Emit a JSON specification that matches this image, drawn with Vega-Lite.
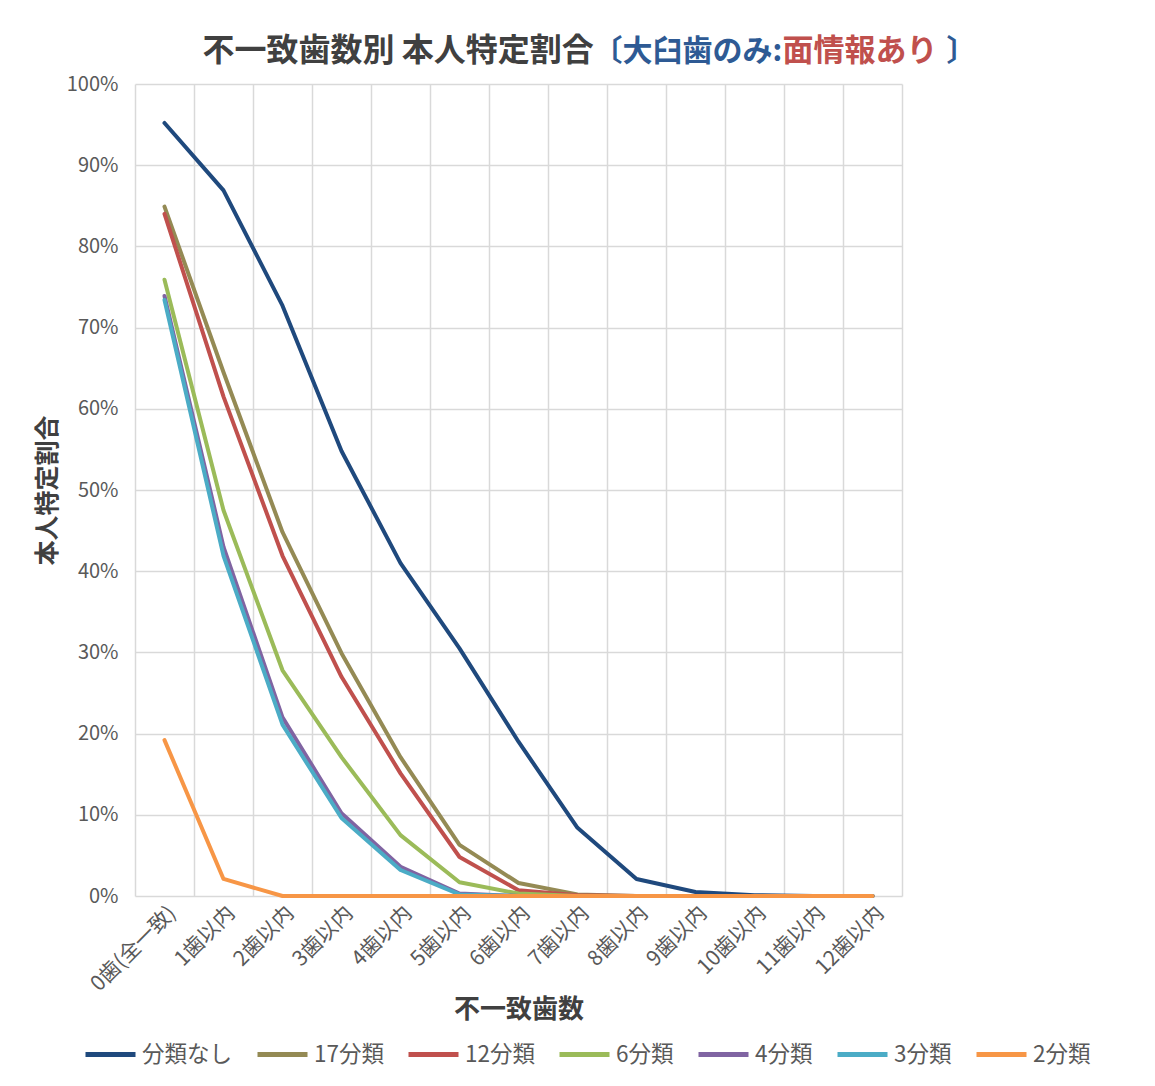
{
  "$schema": "https://vega.github.io/schema/vega-lite/v6.json",
  "autosize": {"type": "none"},
  "width": 767,
  "height": 812,
  "padding": {"left": 135, "top": 84, "right": 253, "bottom": 190},
  "background": "white",
  "config": {"view": {"stroke": null}, "font": "Noto Sans CJK JP"},
  "data": {"values": [
    {"k": "0歯(全一致)", "s": "分類なし", "v": 0.952}, {"k": "1歯以内", "s": "分類なし", "v": 0.869}, {"k": "2歯以内", "s": "分類なし", "v": 0.727}, {"k": "3歯以内", "s": "分類なし", "v": 0.548}, {"k": "4歯以内", "s": "分類なし", "v": 0.41}, {"k": "5歯以内", "s": "分類なし", "v": 0.305}, {"k": "6歯以内", "s": "分類なし", "v": 0.19}, {"k": "7歯以内", "s": "分類なし", "v": 0.084}, {"k": "8歯以内", "s": "分類なし", "v": 0.021}, {"k": "9歯以内", "s": "分類なし", "v": 0.005}, {"k": "10歯以内", "s": "分類なし", "v": 0.001}, {"k": "11歯以内", "s": "分類なし", "v": 0}, {"k": "12歯以内", "s": "分類なし", "v": 0},
    {"k": "0歯(全一致)", "s": "17分類", "v": 0.849}, {"k": "1歯以内", "s": "17分類", "v": 0.645}, {"k": "2歯以内", "s": "17分類", "v": 0.448}, {"k": "3歯以内", "s": "17分類", "v": 0.299}, {"k": "4歯以内", "s": "17分類", "v": 0.171}, {"k": "5歯以内", "s": "17分類", "v": 0.063}, {"k": "6歯以内", "s": "17分類", "v": 0.016}, {"k": "7歯以内", "s": "17分類", "v": 0.002}, {"k": "8歯以内", "s": "17分類", "v": 0}, {"k": "9歯以内", "s": "17分類", "v": 0}, {"k": "10歯以内", "s": "17分類", "v": 0}, {"k": "11歯以内", "s": "17分類", "v": 0}, {"k": "12歯以内", "s": "17分類", "v": 0},
    {"k": "0歯(全一致)", "s": "12分類", "v": 0.84}, {"k": "1歯以内", "s": "12分類", "v": 0.615}, {"k": "2歯以内", "s": "12分類", "v": 0.419}, {"k": "3歯以内", "s": "12分類", "v": 0.27}, {"k": "4歯以内", "s": "12分類", "v": 0.151}, {"k": "5歯以内", "s": "12分類", "v": 0.048}, {"k": "6歯以内", "s": "12分類", "v": 0.007}, {"k": "7歯以内", "s": "12分類", "v": 0.001}, {"k": "8歯以内", "s": "12分類", "v": 0}, {"k": "9歯以内", "s": "12分類", "v": 0}, {"k": "10歯以内", "s": "12分類", "v": 0}, {"k": "11歯以内", "s": "12分類", "v": 0}, {"k": "12歯以内", "s": "12分類", "v": 0},
    {"k": "0歯(全一致)", "s": "6分類", "v": 0.759}, {"k": "1歯以内", "s": "6分類", "v": 0.475}, {"k": "2歯以内", "s": "6分類", "v": 0.278}, {"k": "3歯以内", "s": "6分類", "v": 0.171}, {"k": "4歯以内", "s": "6分類", "v": 0.075}, {"k": "5歯以内", "s": "6分類", "v": 0.017}, {"k": "6歯以内", "s": "6分類", "v": 0.003}, {"k": "7歯以内", "s": "6分類", "v": 0}, {"k": "8歯以内", "s": "6分類", "v": 0}, {"k": "9歯以内", "s": "6分類", "v": 0}, {"k": "10歯以内", "s": "6分類", "v": 0}, {"k": "11歯以内", "s": "6分類", "v": 0}, {"k": "12歯以内", "s": "6分類", "v": 0},
    {"k": "0歯(全一致)", "s": "4分類", "v": 0.739}, {"k": "1歯以内", "s": "4分類", "v": 0.43}, {"k": "2歯以内", "s": "4分類", "v": 0.22}, {"k": "3歯以内", "s": "4分類", "v": 0.102}, {"k": "4歯以内", "s": "4分類", "v": 0.036}, {"k": "5歯以内", "s": "4分類", "v": 0.003}, {"k": "6歯以内", "s": "4分類", "v": 0}, {"k": "7歯以内", "s": "4分類", "v": 0}, {"k": "8歯以内", "s": "4分類", "v": 0}, {"k": "9歯以内", "s": "4分類", "v": 0}, {"k": "10歯以内", "s": "4分類", "v": 0}, {"k": "11歯以内", "s": "4分類", "v": 0}, {"k": "12歯以内", "s": "4分類", "v": 0},
    {"k": "0歯(全一致)", "s": "3分類", "v": 0.734}, {"k": "1歯以内", "s": "3分類", "v": 0.419}, {"k": "2歯以内", "s": "3分類", "v": 0.211}, {"k": "3歯以内", "s": "3分類", "v": 0.096}, {"k": "4歯以内", "s": "3分類", "v": 0.032}, {"k": "5歯以内", "s": "3分類", "v": 0.002}, {"k": "6歯以内", "s": "3分類", "v": 0}, {"k": "7歯以内", "s": "3分類", "v": 0}, {"k": "8歯以内", "s": "3分類", "v": 0}, {"k": "9歯以内", "s": "3分類", "v": 0}, {"k": "10歯以内", "s": "3分類", "v": 0}, {"k": "11歯以内", "s": "3分類", "v": 0}, {"k": "12歯以内", "s": "3分類", "v": 0},
    {"k": "0歯(全一致)", "s": "2分類", "v": 0.192}, {"k": "1歯以内", "s": "2分類", "v": 0.021}, {"k": "2歯以内", "s": "2分類", "v": 0}, {"k": "3歯以内", "s": "2分類", "v": 0}, {"k": "4歯以内", "s": "2分類", "v": 0}, {"k": "5歯以内", "s": "2分類", "v": 0}, {"k": "6歯以内", "s": "2分類", "v": 0}, {"k": "7歯以内", "s": "2分類", "v": 0}, {"k": "8歯以内", "s": "2分類", "v": 0}, {"k": "9歯以内", "s": "2分類", "v": 0}, {"k": "10歯以内", "s": "2分類", "v": 0}, {"k": "11歯以内", "s": "2分類", "v": 0}, {"k": "12歯以内", "s": "2分類", "v": 0}
  ]},
  "encoding": {
    "color": {"field": "s", "type": "nominal", "sort": null,
      "scale": {"domain": ["分類なし", "17分類", "12分類", "6分類", "4分類", "3分類", "2分類"], "range": ["#1F497D", "#948A54", "#C0504D", "#9BBB59", "#8064A2", "#4BACC6", "#F79646"]},
      "legend": {"title": null, "orient": "none", "legendX": -52, "legendY": 943, "direction": "horizontal", "columns": 7, "symbolType": "stroke", "symbolSize": 2500, "symbolStrokeWidth": 5, "labelFontSize": 22.5, "labelColor": "#595959", "labelOffset": 4, "columnPadding": 14}}
  },
  "layer": [
    {
      "transform": [{"filter": {"field": "s", "oneOf": ["分類なし", "17分類", "12分類"]}}],
      "mark": {"type": "line", "strokeWidth": 4, "strokeCap": "round", "strokeJoin": "round"},
      "encoding": {
        "x": {"field": "k", "type": "ordinal", "sort": null,
          "scale": {"type": "band", "paddingInner": 0, "paddingOuter": 0},
          "axis": {"orient": "bottom", "title": "不一致歯数", "labelAngle": -45, "tickBand": "extent", "grid": true, "gridColor": "#D9D9D9", "gridWidth": 1.5, "ticks": false, "domain": false, "labelFontSize": 21, "labelColor": "#595959", "labelPadding": 6, "titleFontSize": 26, "titleFontWeight": "bold", "titleColor": "#404040", "titlePadding": 2}},
        "y": {"field": "v", "type": "quantitative",
          "scale": {"domain": [0, 1], "nice": false},
          "axis": {"orient": "left", "title": "本人特定割合", "format": ".0%", "values": [0, 0.1, 0.2, 0.3, 0.4, 0.5, 0.6, 0.7, 0.8, 0.9, 1], "grid": true, "gridColor": "#D9D9D9", "gridWidth": 1.5, "ticks": false, "domain": false, "labelFontSize": 20, "labelColor": "#595959", "labelPadding": 17, "titleFontSize": 25, "titleFontWeight": "bold", "titleColor": "#404040", "titlePadding": 6}}
      }
    },
    {
      "transform": [{"filter": {"field": "s", "oneOf": ["6分類", "4分類"]}}],
      "mark": {"type": "line", "strokeWidth": 4, "strokeCap": "round", "strokeJoin": "round"},
      "encoding": {
        "x": {"field": "k", "type": "ordinal", "sort": null,
          "scale": {"type": "band", "paddingInner": 0, "paddingOuter": 0},
          "axis": {"orient": "top", "title": "不一致歯数別 本人特定割合", "labels": false, "ticks": false, "domain": false, "grid": false, "titleX": 67, "titleY": -24, "titleAlign": "left", "titleAnchor": "start", "titleBaseline": "alphabetic", "titleFontSize": 32, "titleFontWeight": "bold", "titleColor": "#404040"}},
        "y": {"field": "v", "type": "quantitative",
          "scale": {"domain": [0, 1], "nice": false},
          "axis": {"orient": "right", "title": "面情報あり", "labels": false, "ticks": false, "domain": false, "grid": false, "titleAngle": 0, "titleX": -120, "titleY": -24, "titleAlign": "left", "titleAnchor": "start", "titleBaseline": "alphabetic", "titleFontSize": 31, "titleFontWeight": "bold", "titleColor": "#C0504D"}}
      }
    },
    {
      "transform": [{"filter": {"field": "s", "oneOf": ["3分類", "2分類"]}}],
      "mark": {"type": "line", "strokeWidth": 4, "strokeCap": "round", "strokeJoin": "round"},
      "encoding": {
        "x": {"field": "k", "type": "ordinal", "sort": null,
          "scale": {"type": "band", "paddingInner": 0, "paddingOuter": 0},
          "axis": {"orient": "top", "title": "〔大臼歯のみ:", "labels": false, "ticks": false, "domain": false, "grid": false, "titleX": 457, "titleY": -24, "titleAlign": "left", "titleAnchor": "start", "titleBaseline": "alphabetic", "titleFontSize": 30, "titleFontWeight": "bold", "titleColor": "#2E5A94"}},
        "y": {"field": "v", "type": "quantitative",
          "scale": {"domain": [0, 1], "nice": false},
          "axis": {"orient": "right", "title": "〕", "labels": false, "ticks": false, "domain": false, "grid": false, "titleAngle": 0, "titleX": 44, "titleY": -24, "titleAlign": "left", "titleAnchor": "start", "titleBaseline": "alphabetic", "titleFontSize": 30, "titleFontWeight": "bold", "titleColor": "#2E5A94"}}
      }
    }
  ],
  "resolve": {"axis": {"x": "independent", "y": "independent"}}
}
